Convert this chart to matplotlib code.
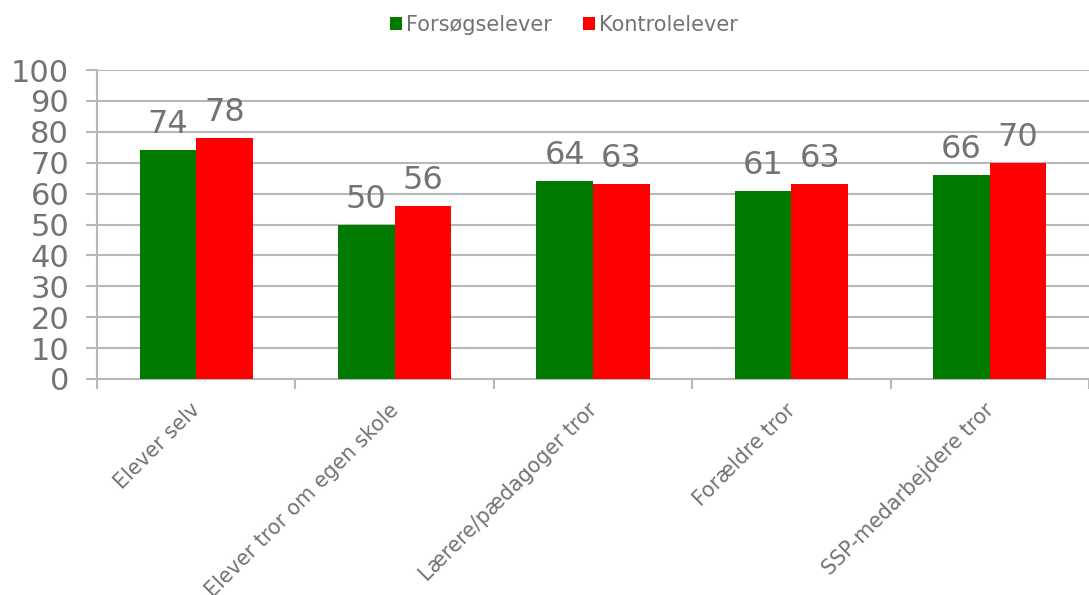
import matplotlib.pyplot as plt
import matplotlib.transforms as mtransforms
import numpy as np

# ── Data ──────────────────────────────────────────────────────────────────────
categories = ["Elever selv", "Elever tror om egen skole", "Lærere/pædagoger tror",
              "Forældre tror", "SSP-medarbejdere tror"]
forsoeg = [74, 50, 64, 61, 66]
kontrol = [78, 56, 63, 63, 70]

GREEN = "#007A00"
RED = "#FF0000"
TEXT = "#737373"
GRID = "#B8B8B8"

fig = plt.figure(figsize=(10.89, 5.95), dpi=100)
ax = fig.add_axes([97 / 1089, 1 - 379 / 595, 1 - 97 / 1089, 309 / 595])

x = np.arange(len(categories))
w = 0.285
b1 = ax.bar(x - w / 2, forsoeg, w, color=GREEN, label="Forsøgselever", zorder=3)
b2 = ax.bar(x + w / 2, kontrol, w, color=RED, label="Kontrolelever", zorder=3)

for bars, vals in ((b1, forsoeg), (b2, kontrol)):
    for bar, v in zip(bars, vals):
        ax.text(bar.get_x() + bar.get_width() / 2, v + 3.2, f"{v}",
                ha="center", va="bottom", fontsize=23, color=TEXT)

ax.set_ylim(0, 100)
ax.set_xlim(-0.5, 4.435)
ax.set_yticks(range(0, 101, 10))
ax.yaxis.grid(True, color=GRID, linewidth=1.5, zorder=0)
ax.tick_params(axis="y", labelsize=22, labelcolor=TEXT, color=GRID,
               length=8, width=1.5, pad=12)

ax.set_xticks(x)
ax.set_xticklabels(categories, rotation=45, ha="right", rotation_mode="anchor",
                   fontsize=14.8, color=TEXT)
ax.tick_params(axis="x", which="major", length=0, pad=15)
shift = mtransforms.ScaledTranslation(-6 / 100, 0, fig.dpi_scale_trans)
for lbl in ax.get_xticklabels():
    lbl.set_transform(lbl.get_transform() + shift)
ax.set_xticks(np.arange(-0.5, 4.6, 1), minor=True)
ax.tick_params(axis="x", which="minor", length=7, width=1.5, color=GRID)

for side in ("top", "right"):
    ax.spines[side].set_visible(False)
for side in ("left", "bottom"):
    ax.spines[side].set_color(GRID)
    ax.spines[side].set_linewidth(1.5)

fig.legend(handles=[b1, b2], loc="center", bbox_to_anchor=(564 / 1089, 1 - 25 / 595),
           ncol=2, frameon=False, fontsize=15, labelcolor=TEXT,
           handlelength=0.55, handleheight=0.55, handletextpad=0.2, columnspacing=1.5)

fig.savefig("out.png", dpi=100)
